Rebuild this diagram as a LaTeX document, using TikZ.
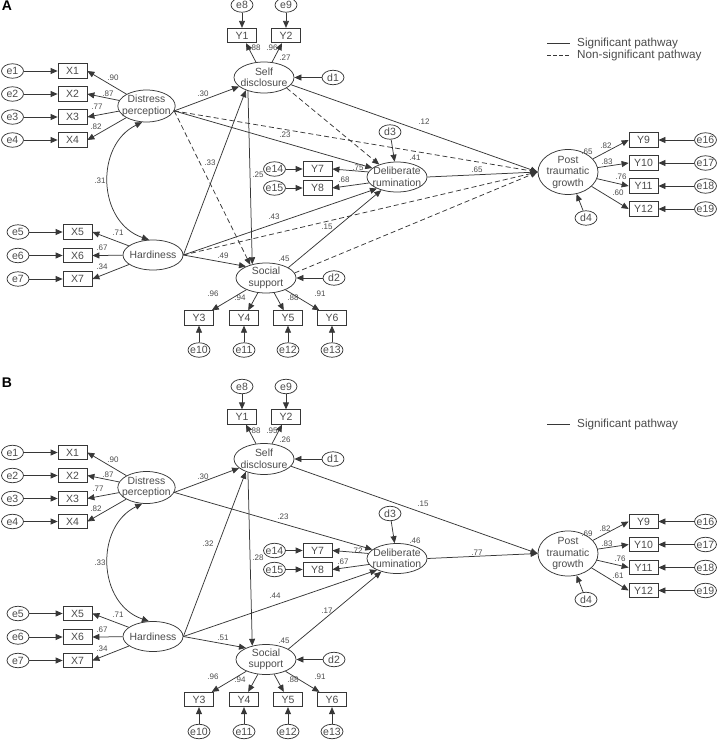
\documentclass[tikz,border=0pt]{standalone}
\usepackage{fontspec}
\setmainfont{Liberation Sans}
\usetikzlibrary{arrows.meta, shapes.geometric}
\definecolor{semline}{RGB}{55,55,55}
\definecolor{semtext}{RGB}{75,75,75}

% nodes and significant paths shared by both panels
\newcommand{\semcore}{%
  % latent variables
  \node[lat, minimum width=57pt, minimum height=32pt] (DP) at (146.5,106) {Distress\\perception};
  \node[lat, minimum height=31pt] (SD) at (264,77.5) {Self\\disclosure};
  \node[lat] (H) at (153,255) {Hardiness};
  \node[lat] (SS) at (266,278) {Social\\support};
  \node[lat] (DR) at (397,177) {Deliberate\\rumination};
  \node[lat, minimum height=45pt, inner ysep=-1pt] (PTG) at (568,172) {Post\\traumatic\\growth};
  % disturbances
  \node[err] (d1) at (333,77.5) {d1};
  \node[err] (d2) at (334,278) {d2};
  \node[err] (d3) at (390,132) {d3};
  \node[err] (d4) at (586,218) {d4};
  \foreach \dd/\lv in {d1/SD,d2/SS,d3/DR,d4/PTG} \draw[sempath] (\dd) -- (\lv);
  % indicators
  \foreach \i/\y in {1/71,2/94,3/117,4/140}{
    \node[err] (e\i) at (12.5,\y) {e\i};
    \node[obs] (X\i) at (72.5,\y) {X\i};
    \draw[sempath] (e\i) -- (X\i);
    \draw[sempath] (DP) -- (X\i.east);
  }
  \foreach \i/\y in {5/232,6/255.5,7/279}{
    \node[err] (e\i) at (18,\y) {e\i};
    \node[obs] (X\i) at (77.5,\y) {X\i};
    \draw[sempath] (e\i) -- (X\i);
    \draw[sempath] (H) -- (X\i.east);
  }
  \foreach \i/\e/\x in {1/8/242,2/9/286}{
    \node[err] (e\e) at (\x,5) {e\e};
    \node[obs] (Y\i) at (\x,35.5) {Y\i};
    \draw[sempath] (e\e) -- (Y\i);
    \draw[sempath] (SD) -- (Y\i);
  }
  \foreach \i/\e/\x in {3/10/199,4/11/244,5/12/288,6/13/332}{
    \node[obs] (Y\i) at (\x,318) {Y\i};
    \node[err] (e\e) at (\x,350) {e\e};
    \draw[sempath] (e\e) -- (Y\i);
    \draw[sempath] (SS) -- (Y\i);
  }
  \foreach \i/\e/\y in {7/14/169,8/15/188}{
    \node[err] (e\e) at (274.5,\y) {e\e};
    \node[obs] (Y\i) at (317.5,\y) {Y\i};
    \draw[sempath] (e\e) -- (Y\i);
  }
  \draw[sempath] (DR.170) -- (Y7.east);
  \draw[sempath] (DR.192) -- (Y8.east);
  \foreach \i/\e/\y in {9/16/140,10/17/163,11/18/186,12/19/209}{
    \node[obs] (Y\i) at (643.5,\y) {Y\i};
    \node[err] (e\e) at (705.5,\y) {e\e};
    \draw[sempath] (e\e) -- (Y\i);
    \draw[sempath] (PTG) -- (Y\i.west);
  }
  % structural paths
  \draw[sempath] (DP.350) -- (SD.200);
  \draw[sempath] (DP.350) -- (DR.160);
  \draw[sempath] (H.east) -- (SD.215);
  \draw[sempath] (H.east) -- (DR.210);
  \draw[sempath] (H.east) -- (SS.150);
  \draw[sempath] (SD.220) -- (SS.135);
  \draw[sempath] (SD.345) -- (PTG.west);
  \draw[sempath] (SS.25) -- (DR.220);
  \draw[sempath] (DR.east) -- (PTG.west);
  \draw[cov] (DP.255) .. controls (95,145) and (97,222) .. (H.105);
}

\begin{document}
\begin{tikzpicture}[
  x=1pt, y=-1pt,
  color=semline, text=semtext,
  font=\fontsize{10.4}{11.5}\selectfont,
  lat/.style={ellipse, draw, line width=0.75pt, minimum width=60pt, minimum height=30pt, inner xsep=-4pt, inner ysep=0pt, align=center},
  err/.style={ellipse, draw, line width=0.75pt, minimum width=22pt, minimum height=14.5pt, inner xsep=-3pt, inner ysep=0pt, font=\fontsize{10.5}{12}\selectfont},
  obs/.style={rectangle, draw, line width=0.75pt, minimum width=29pt, minimum height=14.5pt, inner sep=0pt, font=\fontsize{10.5}{12}\selectfont},
  sempath/.style={draw, line width=0.75pt, -{Triangle[length=7pt,width=6pt]}},
  nsig/.style={sempath, dash pattern=on 5pt off 3pt},
  cov/.style={draw, line width=0.75pt, {Triangle[length=7pt,width=6pt]}-{Triangle[length=7pt,width=6pt]}},
  coef/.style={font=\fontsize{8}{9}\selectfont, inner sep=0pt},
  legtext/.style={anchor=west, inner sep=0pt, font=\fontsize{11.7}{13}\selectfont},
  panel/.style={font=\bfseries\fontsize{14}{14}\selectfont, text=black, inner sep=0pt}
]
\useasboundingbox (0,0) rectangle (723,747);

% panel A
\begin{scope}[name prefix=A-]
  \semcore
  % non-significant paths
  \draw[nsig] (DP.350) -- (PTG.west);
  \draw[nsig] (DP.350) -- (SS.140);
  \draw[nsig] (SD.335) -- (DR.145);
  \draw[nsig] (H.east) -- (PTG.west);
  \draw[nsig] (SS.10) -- (PTG.west);
  \foreach \lab/\x/\y [count=\k] in {.90/113/78, .87/108/94, .77/97/107, .82/96/127,
      .71/118/233, .67/102/248, .34/102/267, .31/100/181,
      .30/203/94, .23/285/135, .33/210/163,
      .88/255/48, .96/272/48, .27/285/58,
      .25/258/175, .75/358/168, .68/344/180, .41/415/158,
      .12/424/122, .65/477/170, .43/274/217, .15/327/227,
      .49/223/256, .45/284/259,
      .96/213/294, .94/240/298, .88/293/298, .91/320/294,
      .65/587/152, .82/606/146, .83/607/162, .76/621/177, .60/618/193}
    \node[coef] (c\k) at (\x,\y) {\lab};
  % legend
  \coordinate (s1) at (547,43);
  \coordinate (s2) at (570,43);
  \coordinate (n1) at (547,55);
  \coordinate (n2) at (570,55);
  \draw[line width=0.75pt] (s1) -- (s2);
  \draw[line width=0.75pt, dash pattern=on 3.5pt off 2.5pt] (n1) -- (n2);
  \node[legtext] (sig) at (577,43) {Significant pathway};
  \node[legtext] (nonsig) at (577,55) {Non-significant pathway};
  \node[panel] (tag) at (7,5.5) {A};
\end{scope}

% panel B
\begin{scope}[shift={(0,381.5)}, name prefix=B-]
  \semcore
  \foreach \lab/\x/\y [count=\k] in {.90/113/78, .87/108/93, .77/98/107, .82/96/127,
      .71/118/233, .67/102/248, .34/102/267, .33/100/181,
      .30/203/95, .23/283/135, .32/208/162,
      .88/255/49, .95/272/49, .26/285/58,
      .28/258/176, .72/357/169, .67/343/180, .46/415/159,
      .15/423/122, .77/477/171, .44/275/214, .17/327/229,
      .51/223/256, .45/284/259,
      .96/213/295, .94/240/298, .88/293/298, .91/320/295,
      .69/587/152, .82/605/147, .83/607/162, .76/620/177, .61/618/194}
    \node[coef] (c\k) at (\x,\y) {\lab};
  % legend
  \coordinate (s1) at (547,43);
  \coordinate (s2) at (570,43);
  \draw[line width=0.75pt] (s1) -- (s2);
  \node[legtext] (sig) at (577,43) {Significant pathway};
  \node[panel] (tag) at (7,1) {B};
\end{scope}
\end{tikzpicture}
\end{document}
